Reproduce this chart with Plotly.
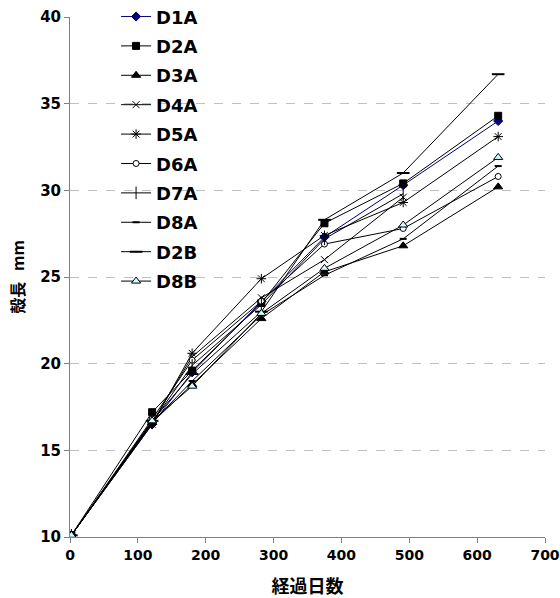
import plotly.graph_objects as go

days = [2, 121, 180, 282, 375, 491, 631]

series_names = ["D1A", "D2A", "D3A", "D4A", "D5A", "D6A", "D7A", "D8A", "D2B", "D8B"]
D1A = [10.1, 16.5, 19.5, 23.6, 27.3, 30.3, 34.0]
D2A = [10.1, 17.2, 19.6, 23.5, 28.1, 30.4, 34.3]
D3A = [10.1, 16.6, 18.8, 22.6, 25.3, 26.8, 30.2]
D4A = [10.1, 16.6, 20.4, 23.8, 26.0, 29.6, None]
D5A = [10.1, 16.5, 20.6, 24.9, 27.4, 29.3, 33.1]
D6A = [10.1, 16.8, 20.2, 23.6, 26.9, 27.8, 30.8]
D7A = [10.1, 16.6, 19.9, 23.4, 27.2, 29.8, None]
D8A = [10.1, 16.6, 19.0, 22.8, 25.1, 27.2, 31.4]
D2B = [10.1, 16.7, 19.4, 23.0, 28.3, 31.0, 36.7]
D8B = [10.1, 16.7, 18.7, 22.9, 25.5, 28.0, 31.9]

x_ticks = [0, 100, 200, 300, 400, 500, 600, 700]
y_ticks = [10, 15, 20, 25, 30, 35, 40]

values = [D1A, D2A, D3A, D4A, D5A, D6A, D7A, D8A, D2B, D8B]
styles = {
    "D1A": dict(color="#000080", symbol="diamond", size=7, fill="#000080", lw=1),
    "D2A": dict(color="black", symbol="square", size=7, fill="black", lw=1),
    "D3A": dict(color="black", symbol="triangle-up", size=8, fill="black", lw=1),
    "D4A": dict(color="black", symbol="x-thin", size=7, fill="black", lw=1),
    "D5A": dict(color="black", symbol="asterisk", size=8, fill="black", lw=1),
    "D6A": dict(color="black", symbol="circle", size=6, fill="white", lw=1),
    "D7A": dict(color="black", symbol="line-ns", size=9, fill="black", lw=1),
    "D8A": dict(color="black", symbol="line-ew", size=5, fill="black", lw=2),
    "D2B": dict(color="black", symbol="line-ew", size=9, fill="black", lw=2),
    "D8B": dict(color="black", symbol="triangle-up", size=8, fill="#CCFFFF", lw=1),
}

fig = go.Figure()
for name, vals in zip(series_names, values):
    s = styles[name]
    fig.add_trace(go.Scatter(
        x=days, y=vals, name=name, mode="lines+markers",
        legendgroup=name,
        line=dict(color=s["color"], width=1),
        marker=dict(symbol=s["symbol"], size=s["size"], color=s["fill"],
                    line=dict(color=s["color"], width=s["lw"])),
        connectgaps=False,
    ))

font_jp = "Noto Sans CJK JP"
tick_font = "DejaVu Sans"
fig.update_layout(
    width=560, height=598,
    margin=dict(l=70, r=15, t=17, b=61, autoexpand=False),
    paper_bgcolor="white", plot_bgcolor="white",
    showlegend=True,
    legend=dict(x=0.097, y=1.036, xanchor="left", yanchor="top",
                bgcolor="rgba(0,0,0,0)", tracegroupgap=3, maxheight=400,
                font=dict(family=tick_font, size=18, color="black", weight="bold"),
                itemwidth=30),
    font=dict(family=tick_font, color="black"),
)
fig.update_xaxes(
    range=[0, 700], tickvals=x_ticks, ticks="outside", ticklen=5, tickcolor="#808080",
    showline=True, linecolor="#808080", linewidth=1, showgrid=False, zeroline=False,
    automargin=False,
    tickfont=dict(size=14, family=tick_font, weight="bold"),
    title=dict(text="経過日数", font=dict(family=font_jp, size=18, weight="bold"), standoff=20),
)
fig.update_yaxes(
    range=[10, 40], tickvals=y_ticks, ticks="outside", ticklen=5, tickcolor="#808080",
    showline=True, linecolor="#808080", linewidth=1,
    showgrid=True, gridcolor="#C0C0C0", griddash="dash", gridwidth=1, zeroline=False,
    automargin=False,
    tickfont=dict(size=15, family=tick_font, weight="bold"),
    title=dict(text="殻長\u00a0\u00a0\u00a0mm", font=dict(family=font_jp, size=16, weight="bold"), standoff=11),
)
fig.write_html("out.html")
